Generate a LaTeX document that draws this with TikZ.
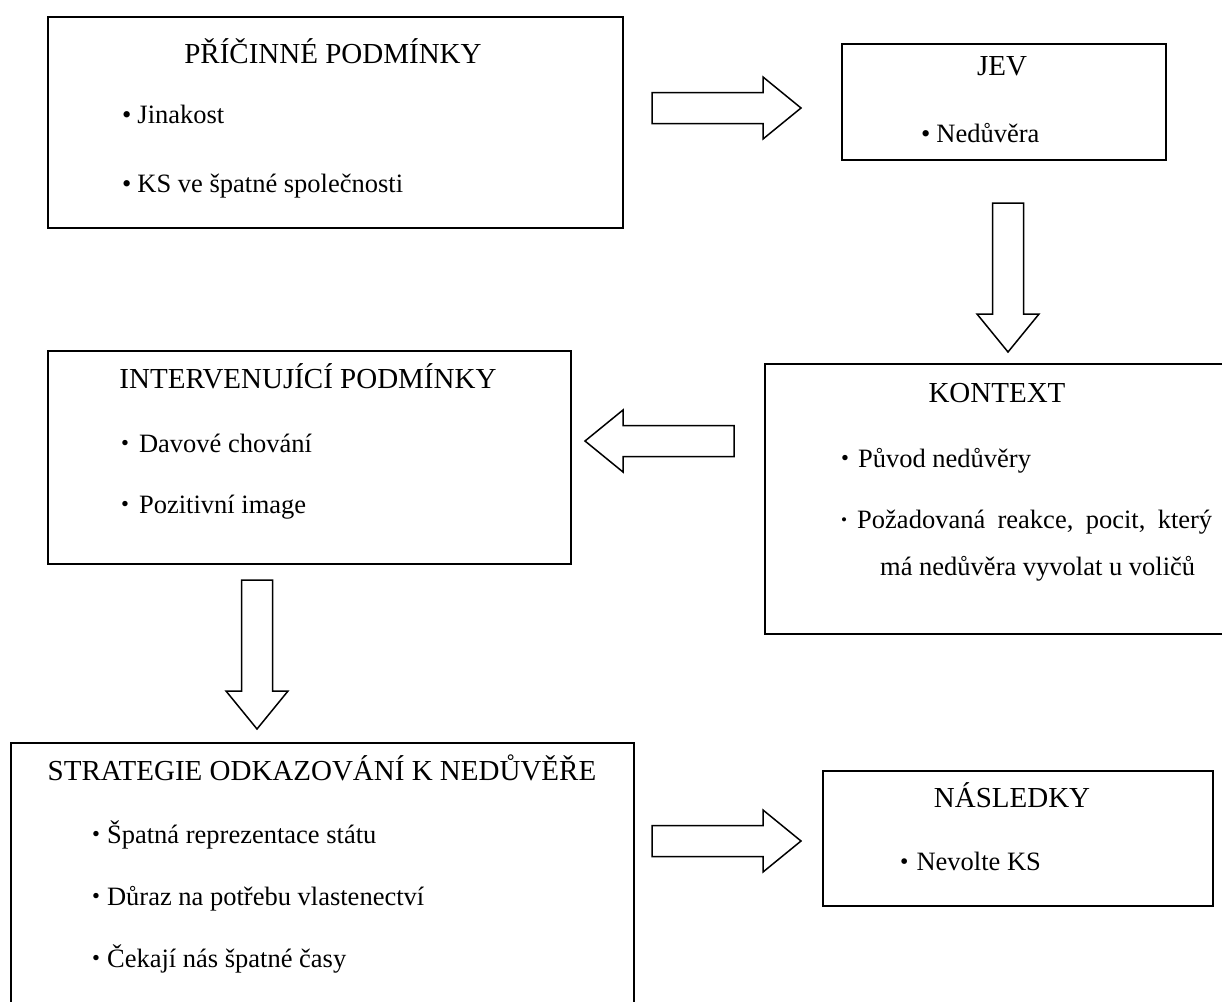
\documentclass[tikz,border=0pt]{standalone}
\usepackage{fontspec}
\setmainfont{Liberation Serif}
\newcommand\blockarr[2]{% #1 tail coordinate, #2 direction in degrees
  \draw[blockarrow, shift={(#1)}, rotate=#2]
    (0,15.5) -- (111,15.5) -- (111,31) -- (149,0) -- (111,-31) -- (111,-15.5) -- (0,-15.5) -- cycle;}
% bullet: #1 scale, #2 lift, #3 gap before the text
\newcommand\bul[3]{\raisebox{#2}{\scalebox{#1}{•}}\hspace{#3}}
\begin{document}
\begin{tikzpicture}[x=1pt,y=-1pt,
  frame/.style={draw=black, line width=2pt, fill=white, inner sep=0pt, anchor=north west},
  blockarrow/.style={draw=black, line width=1.5pt, fill=white, line join=miter},
  head/.style={font=\fontsize{29}{34}\selectfont, inner sep=0pt, anchor=base},
  item/.style={font=\fontsize{26.5}{31}\selectfont, inner sep=0pt, anchor=base west},
]
\useasboundingbox (0,0) rectangle (1222,1001);
\clip (0,0) rectangle (1222,1001);

% boxes
\node[frame, minimum width=575pt, minimum height=211pt] (cause) at (47,16) {};
\node[frame, minimum width=324pt, minimum height=116pt] (jev) at (841,43) {};
\node[frame, minimum width=476pt, minimum height=270pt] (ctx) at (764,363) {};
\node[frame, minimum width=523pt, minimum height=213pt] (interv) at (47,350) {};
\node[frame, minimum width=623pt, minimum height=290pt] (strat) at (10,742) {};
\node[frame, minimum width=390pt, minimum height=135pt] (cons) at (822,770) {};

% texts
\node[head] (causeT) at (333,63) {PŘÍČINNÉ PODMÍNKY};
\node[item] (c1) at (122,123) {\bul{1}{0pt}{6pt}Jinakost};
\node[item] (c2) at (122,192) {\bul{1}{0pt}{6pt}KS ve špatné společnosti};

\node[head] (jevT) at (1002,75) {JEV};
\node[item] (j1) at (921,142) {\bul{1}{0pt}{6pt}Nedůvěra};

\node[head] (ctxT) at (997,402) {KONTEXT};
\node[item] (k1) at (841,467) {\bul{0.85}{1.3pt}{9pt}Původ nedůvěry};
\node[item] (k2) at (841,528) {\hbox to 371pt{\bul{0.65}{3pt}{10pt}Požadovaná\hfil\ reakce,\hfil\ pocit,\hfil\ který}};
\node[item] (k3) at (880,575) {má nedůvěra vyvolat u voličů};

\node[head] (intervT) at (308,388) {INTERVENUJÍCÍ PODMÍNKY};
\node[item] (i1) at (121,452) {\bul{0.85}{1.3pt}{10pt}Davové chování};
\node[item] (i2) at (121,513) {\bul{0.85}{1.3pt}{10pt}Pozitivní image};

\node[head] (stratT) at (322,780) {STRATEGIE ODKAZOVÁNÍ K NEDŮVĚŘE};
\node[item] (s1) at (92,843) {\bul{0.85}{1.3pt}{7pt}Špatná reprezentace státu};
\node[item] (s2) at (92,905) {\bul{0.85}{1.3pt}{7pt}Důraz na potřebu vlastenectví};
\node[item] (s3) at (92,967) {\bul{0.85}{1.3pt}{7pt}Čekají nás špatné časy};

\node[head] (consT) at (1012,807) {NÁSLEDKY};
\node[item] (n1) at (900,870) {\bul{0.9}{0.9pt}{8pt}Nevolte KS};

% block arrows between the boxes
\coordinate (a1) at (652,108);
\coordinate (a2) at (1008,203);
\coordinate (a3) at (734,441);
\coordinate (a4) at (257,580);
\coordinate (a5) at (652,841);
\blockarr{a1}{0}
\blockarr{a2}{-90}
\blockarr{a3}{180}
\blockarr{a4}{-90}
\blockarr{a5}{0}
\end{tikzpicture}
\end{document}
